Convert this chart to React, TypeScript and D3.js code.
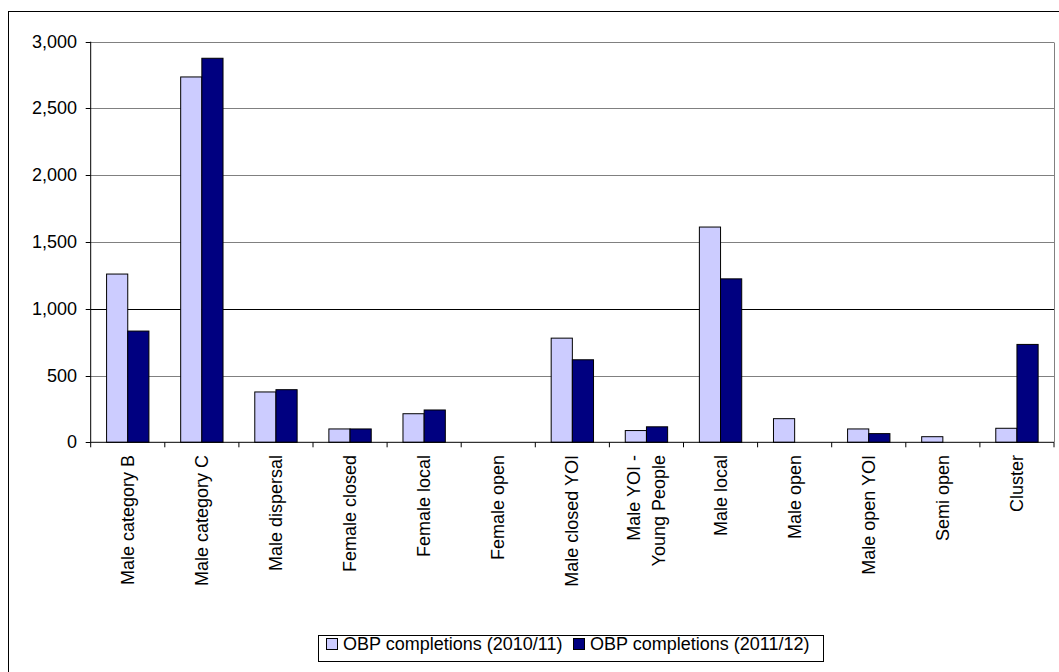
import React from "react";
import * as d3 from "d3";

const categories: string[][] = [
  ["Male category B"],
  ["Male category C"],
  ["Male dispersal"],
  ["Female closed"],
  ["Female local"],
  ["Female open"],
  ["Male closed YOI"],
  ["Male YOI -", "Young People"],
  ["Male local"],
  ["Male open"],
  ["Male open YOI"],
  ["Semi open"],
  ["Cluster"],
];
const series2010: number[] = [1260, 2736, 377, 100, 214, 0, 780, 88, 1612, 177, 100, 42, 105];
const series2011: number[] = [833, 2876, 394, 100, 242, 0, 618, 116, 1224, 0, 65, 0, 733];
const seriesNames: string[] = ["OBP completions (2010/11)", "OBP completions (2011/12)"];
const yTicks: number[] = [0, 500, 1000, 1500, 2000, 2500, 3000];

const W = 1059;
const H = 672;
const FONT = "'Liberation Sans', Arial, sans-serif";
const colors = ["#CCCCFF", "#000080"];

export default function App() {
  const left = 90.7, right = 1054, top = 41.7, bottom = 442.3;
  const x = d3.scaleBand<number>().domain(d3.range(categories.length)).range([left, right]).paddingInner(0).paddingOuter(0);
  const y = d3.scaleLinear().domain([0, 3000]).range([bottom, top]);
  const bw = x.bandwidth();
  const barW = bw / 3.5;
  const fmt = d3.format(",");
  const all = [series2010, series2011];

  const legendY = 644;
  const legendEntries = [
    { x: 326, name: seriesNames[0], color: colors[0] },
    { x: 573, name: seriesNames[1], color: colors[1] },
  ];

  return (
    <div style={{ position: "absolute", left: 0, top: 0 }}>
      <svg width={W} height={H} style={{ display: "block", background: "#fff" }} fontFamily={FONT}>
        <rect x={8.5} y={11.5} width={1060} height={670} fill="#fff" stroke="#000" strokeWidth={1} />
        {/* gridlines */}
        {yTicks.filter((t) => t > 0).map((t) => (
          <line key={t} x1={left} x2={right} y1={Math.round(y(t)) + 0.5} y2={Math.round(y(t)) + 0.5}
            stroke={t === 1000 ? "#000" : "#808080"} strokeWidth={1} />
        ))}
        {/* plot right border */}
        <line x1={right + 0.5} x2={right + 0.5} y1={Math.round(y(3000)) + 0.5} y2={bottom} stroke="#808080" />
        {/* bars */}
        {all.map((s, si) =>
          s.map((v, i) => {
            if (v <= 0) return null;
            const x0 = (x(i) as number) + (bw - 2 * barW) / 2 + si * barW;
            return (
              <rect key={`${si}-${i}`} x={x0} y={y(v)} width={barW} height={y(0) - y(v)}
                fill={colors[si]} stroke="#000" strokeWidth={1} />
            );
          })
        )}
        {/* y axis */}
        <line x1={left} x2={left} y1={top} y2={bottom} stroke="#000" />
        {yTicks.map((t) => (
          <g key={t}>
            <line x1={left - 5} x2={left} y1={Math.round(y(t)) + 0.5} y2={Math.round(y(t)) + 0.5} stroke="#000" />
            <text x={77} y={y(t)} textAnchor="end" dominantBaseline="central" fontSize={18} fill="#000">
              {fmt(t)}
            </text>
          </g>
        ))}
        {/* x axis */}
        <line x1={left} x2={right} y1={bottom} y2={bottom} stroke="#000" />
        {d3.range(categories.length + 1).map((i) => {
          const xx = left + i * bw;
          return <line key={i} x1={xx} x2={xx} y1={bottom} y2={bottom + 5} stroke="#000" />;
        })}
        {categories.map((lines, i) => {
          const cx = (x(i) as number) + bw / 2;
          const n = lines.length;
          return (
            <g key={i} transform={`translate(${cx},455) rotate(-90)`}>
              {lines.map((ln, li) => (
                <text key={li} x={0} y={(li - (n - 1) / 2) * 25} textAnchor="end" dominantBaseline="central"
                  fontSize={18} fill="#000">
                  {ln}
                </text>
              ))}
            </g>
          );
        })}
        {/* legend */}
        <rect x={318.5} y={635.5} width={505} height={26} fill="#fff" stroke="#000" />
        {legendEntries.map((e, i) => (
          <g key={i}>
            <rect x={e.x + 0.5} y={legendY - 5.5} width={11} height={11} fill={e.color} stroke="#000" />
            <text x={e.x + 17} y={legendY} dominantBaseline="central" fontSize={18} fill="#000">
              {e.name}
            </text>
          </g>
        ))}
      </svg>
    </div>
  );
}
